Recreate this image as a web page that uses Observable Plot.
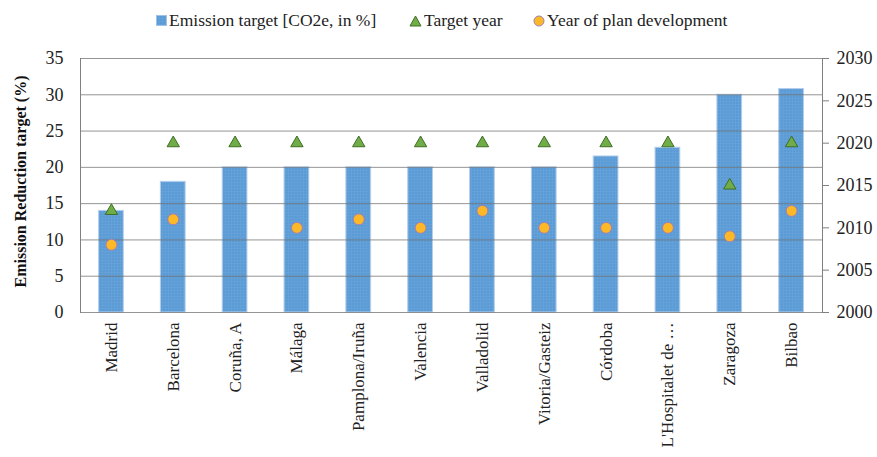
<!DOCTYPE html>
<html>
<head>
<meta charset="utf-8">
<script src="https://cdn.jsdelivr.net/npm/d3@7"></script>
<script src="https://cdn.jsdelivr.net/npm/@observablehq/plot@0.6"></script>
<style>
  body { margin: 0; background: #fff; font-family: "Liberation Serif", "Times New Roman", serif; color: #222; }
  #legend { position: relative; height: 38px; width: 877px; font-family: "Liberation Serif", serif; font-size: 17.5px; color: #222; }
  #legend span.item { position: absolute; top: 10px; display: flex; align-items: center; white-space: nowrap; }
  #legend svg { margin-right: 2px; }
</style>
</head>
<body>
<div id="legend">
  <span class="item" style="left:156px">
    <svg width="11" height="11"><rect x="0.5" y="0.5" width="10" height="10" fill="url(#barTexture)" stroke="#9fc3e7"/></svg>
    <span>Emission target [CO2e, in %]</span>
  </span>
  <span class="item" style="left:409px">
    <svg width="13" height="12"><path d="M6.5,1 L12,11 L1,11 Z" fill="#70ad47" stroke="#3f6e27"/></svg>
    <span>Target year</span>
  </span>
  <span class="item" style="left:533px">
    <svg width="12" height="12"><circle cx="6" cy="6" r="5" fill="#fdb827" stroke="#a07fb3"/></svg>
    <span>Year of plan development</span>
  </span>
</div>
<div id="chart"></div>
<script>
// Cities (as labelled on the axis)
const cities = ["Madrid", "Barcelona", "Coruña, A", "Málaga", "Pamplona/Iruña", "Valencia",
  "Valladolid", "Vitoria/Gasteiz", "Córdoba", "L'Hospitalet de …", "Zaragoza", "Bilbao"];
// Emission reduction target, CO2e in %
const emissionTarget = [14, 18, 20, 20, 20, 20, 20, 20, 21.5, 22.7, 30, 30.8];
// Target year of the reduction
const targetYear = [2012, 2020, 2020, 2020, 2020, 2020, 2020, 2020, 2020, 2020, 2015, 2020];
// Year in which the plan was developed (none for Coruña)
const planYear = [2008, 2011, null, 2010, 2011, 2010, 2012, 2010, 2010, 2010, 2009, 2012];
// Axis ticks
const pctTicks = [0, 5, 10, 15, 20, 25, 30, 35];
const yearTicks = [2000, 2005, 2010, 2015, 2020, 2025, 2030];

// Secondary (year) axis shares the plot with the percent axis: 2000–2030 ↔ 0–35
const yearMin = 2000, yearMax = 2030, pctMax = 35;
const toPct = (yr) => (yr - yearMin) * pctMax / (yearMax - yearMin);
const toYear = (p) => String(Math.round(yearMin + p * (yearMax - yearMin) / pctMax));

const rows = cities.map((city, i) => ({
  city, target: emissionTarget[i], targetYear: targetYear[i], planYear: planYear[i]
}));

const plot = Plot.plot({
  width: 877,
  height: 419,
  marginTop: 20,
  marginBottom: 145,
  marginLeft: 80,
  marginRight: 55,
  style: { fontFamily: "Liberation Serif, Times New Roman, serif", fontSize: "17px", color: "#222", background: "#fff" },
  x: { domain: cities, paddingInner: 0.6, paddingOuter: 0.3, round: false, label: null },
  y: { domain: [0, pctMax], label: null },
  marks: [
    Plot.barY(rows, { x: "city", y: "target", fill: "url(#barTexture)", stroke: "#b3cfec", strokeWidth: 1 }),
    Plot.gridY(pctTicks, { stroke: "#707070", strokeOpacity: 0.75, strokeWidth: 1 }),
    Plot.frame({ anchor: "left", stroke: "#808080" }),
    Plot.frame({ anchor: "right", stroke: "#808080" }),
    Plot.axisY(pctTicks, { anchor: "left", tickSize: 0, tickPadding: 17, fontSize: 18, label: null }),
    Plot.axisY(yearTicks.map(toPct), {
      anchor: "right", tickSize: 6, tickPadding: 8, fontSize: 18, stroke: "#808080",
      tickFormat: toYear, label: null
    }),
    Plot.axisX({ tickRotate: -90, tickSize: 0, tickPadding: 10, fontSize: 17, letterSpacing: 0.8, label: null }),
    Plot.text(["Emission Reduction target (%)"], {
      frameAnchor: "left", textAnchor: "middle", rotate: -90, dx: -60, dy: -4,
      fontWeight: "bold", fontSize: 16, letterSpacing: 1.4, fill: "#111"
    }),
    Plot.dot(rows, {
      x: "city", y: (d) => toPct(d.targetYear), symbol: "triangle", r: 4.6,
      fill: "#70ad47", stroke: "#3f6e27", strokeWidth: 1
    }),
    Plot.dot(rows.filter((d) => d.planYear != null), {
      x: "city", y: (d) => toPct(d.planYear), r: 5.5,
      fill: "#fdb827", stroke: "#a07fb3", strokeWidth: 1
    })
  ]
});

// Fine grid texture used to fill the bars and the legend swatch
const defs = `
<defs>
  <pattern id="barTexture" width="3" height="3" patternUnits="userSpaceOnUse">
    <rect width="3" height="3" fill="#5b9bd5"/>
    <path d="M0,0.5 H3 M0.5,0 V3" stroke="#64a1d8" stroke-width="1"/>
  </pattern>
</defs>`;
plot.insertAdjacentHTML("afterbegin", defs);
document.getElementById("chart").appendChild(plot);
</script>
</body>
</html>
